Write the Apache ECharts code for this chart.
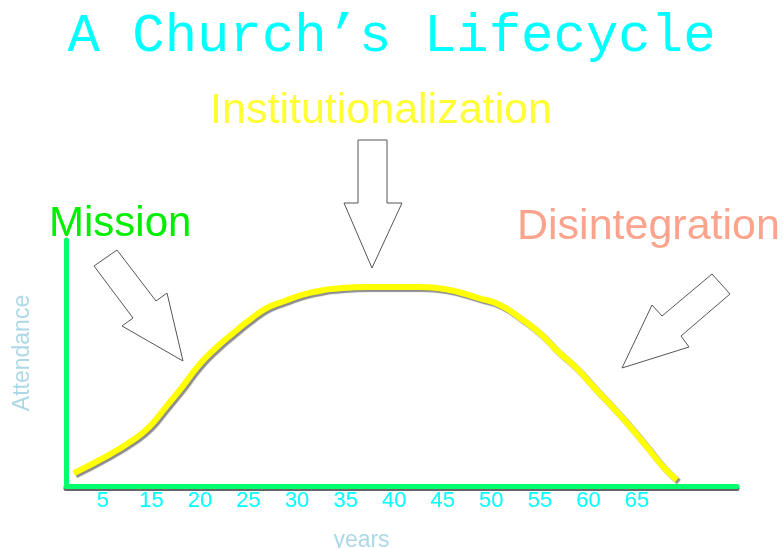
<!DOCTYPE html>
<html>
<head>
<meta charset="utf-8">
<title>A Church's Lifecycle</title>
<script src="https://cdn.jsdelivr.net/npm/echarts@6/dist/echarts.min.js"></script>
<style>
  html, body { margin: 0; padding: 0; background: #fff; }
  #chart { width: 783px; height: 548px; }
</style>
</head>
<body>
<div id="chart"></div>
<script>
// the curve (years vs attendance, 0-100)
const years = [7.0, 10.3, 13.1, 14.8, 16.5, 18.2, 19.9, 21.6, 23.4, 25.1, 26.8, 28.5, 31.3, 34.7, 37.2, 40.6, 42.7, 45.2,
  48.8, 50.9, 53.0, 55.0, 56.7, 58.8, 60.5, 62.6, 64.3, 66.0, 67.7, 69.1];
const attendance = [5.2, 11.9, 18.7, 24.1, 32.2, 40.4, 49.2, 56.0, 62.1, 67.5, 72.2, 74.9, 78.5, 80.5, 80.9, 80.9, 80.9, 80.1,
  76.3, 73.6, 68.2, 62.1, 55.3, 47.8, 40.4, 31.6, 24.1, 16.0, 7.8, 2.4];

// tick labels as printed (the first one says 5, sitting where 10 would be)
const tickYears = [10, 15, 20, 25, 30, 35, 40, 45, 50, 55, 60, 65];
const tickLabels = ['5', '15', '20', '25', '30', '35', '40', '45', '50', '55', '60', '65'];

const green = '#00ff6a';

function arrow(points) {
  return {
    type: 'polygon',
    shape: { points: points },
    style: { fill: '#fff', stroke: '#555', lineWidth: 1 },
    z: 10
  };
}

const chart = echarts.init(document.getElementById('chart'));

const option = {
  animation: false,
  title: {
    text: 'A Church\u2019s Lifecycle',
    left: 'center',
    top: 5,
    textStyle: {
      fontFamily: 'Liberation Mono',
      fontSize: 54,
      fontWeight: 'normal',
      color: '#00ffff'
    }
  },
  grid: { left: 66, right: 46, top: 240, bottom: 62, outerBoundsMode: 'none' },
  xAxis: {
    type: 'value',
    min: 6.2,
    max: 75.3,
    name: 'years',
    nameLocation: 'middle',
    nameGap: 43,
    nameTextStyle: { color: '#add8e6', fontSize: 23, fontFamily: 'Liberation Sans', padding: [0, 80, 0, 0] },
    axisLine: {
      lineStyle: { color: green, width: 5, shadowColor: 'rgba(0,0,0,0.6)', shadowOffsetY: 2 }
    },
    axisTick: { show: false },
    splitLine: { show: false },
    axisLabel: {
      customValues: tickYears,
      margin: 4,
      color: '#00ffff',
      fontSize: 22,
      fontFamily: 'Liberation Sans',
      formatter: function (v) {
        const i = tickYears.indexOf(v);
        return i >= 0 ? tickLabels[i] : '';
      }
    }
  },
  yAxis: {
    type: 'value',
    min: 0,
    max: 100,
    name: 'Attendance',
    nameLocation: 'middle',
    nameGap: 32,
    nameRotate: 90,
    nameTextStyle: { color: '#add8e6', fontSize: 23, fontFamily: 'Liberation Sans', padding: [0, 0, 0, 20] },
    axisLine: { show: true, lineStyle: { color: green, width: 5 } },
    axisTick: { show: false },
    axisLabel: { show: false },
    splitLine: { show: false }
  },
  series: [
    {
      type: 'line',
      smooth: true,
      symbol: 'none',
      data: years.map((y, i) => [y, attendance[i]]),
      lineStyle: {
        color: '#ffff00',
        width: 6,
        shadowColor: 'rgba(0,0,0,0.45)',
        shadowBlur: 1,
        shadowOffsetX: 2,
        shadowOffsetY: 2
      }
    }
  ],
  graphic: [
    {
      type: 'text',
      style: {
        text: 'Institutionalization', x: 381, y: 90, align: 'center', verticalAlign: 'top',
        fill: '#ffff33', fontSize: 43, fontFamily: 'Liberation Sans'
      }
    },
    {
      type: 'text',
      style: {
        text: 'Mission', x: 49, y: 203, verticalAlign: 'top',
        fill: '#00ee00', fontSize: 42, fontFamily: 'Liberation Sans'
      }
    },
    {
      type: 'text',
      style: {
        text: 'Disintegration', x: 517, y: 206, verticalAlign: 'top',
        fill: '#fba38c', fontSize: 43, fontFamily: 'Liberation Sans'
      }
    },
    arrow([[94, 266], [117, 250], [156, 301], [167, 293], [183, 361], [122, 326], [133, 318]]),
    arrow([[358, 140], [387, 140], [387, 203], [402, 203], [372, 268], [344, 203], [358, 203]]),
    arrow([[712, 274], [730, 294], [681, 336], [689, 347], [622, 368], [652, 305], [662, 316]])
  ]
};

chart.setOption(option);
</script>
</body>
</html>
